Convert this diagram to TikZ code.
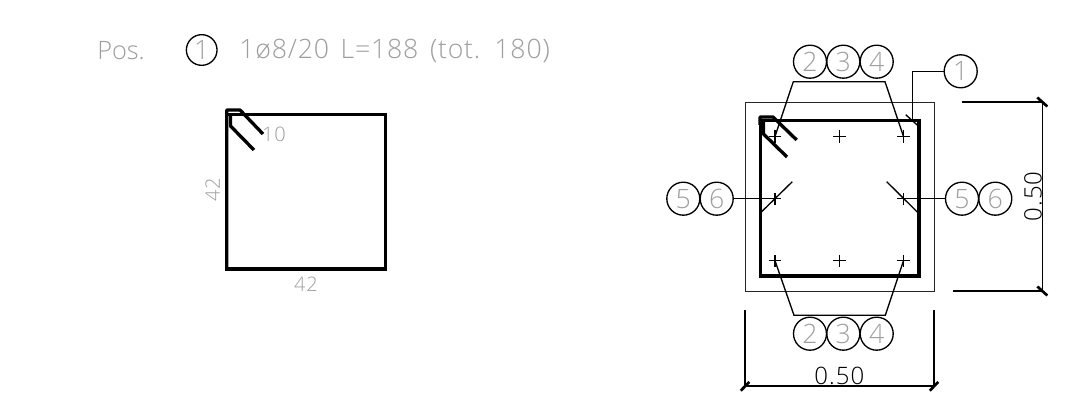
\documentclass[tikz,border=0pt]{standalone}
\usepackage{fontspec}
\usepackage{xcolor}
\newfontfamily\cadfont{Open Sans Light}
\newfontfamily\cadwide[LetterSpace=4.5,WordSpace=1.5]{Open Sans Light}
\newfontfamily\cadtitle[LetterSpace=3,WordSpace=1.5]{Open Sans Light}
\usetikzlibrary{shapes, shapes.misc}
\definecolor{textgray}{gray}{0.62}
\tikzstyle{concrete} = [rectangle, draw=black!85, line width=0.6pt, inner sep=0pt, minimum width=141.75pt, minimum height=141.75pt]
\tikzstyle{stirrup} = [rectangle, draw, line width=2.5pt, inner sep=0pt]
\tikzstyle{hook} = [draw, line width=2.5pt, line join=round]
\tikzstyle{line} = [draw, line width=1pt]
\tikzstyle{posno} = [circle, draw, line width=1pt, inner sep=0pt, minimum size=24.75pt, text=textgray, font=\cadfont\fontsize{20}{20}\selectfont]
\tikzstyle{bar} = [cross out, draw, line width=1.1pt, rotate=45, inner sep=0pt, outer sep=0pt, minimum size=6.4pt]
\tikzstyle{heading} = [inner sep=0pt, text=textgray, font=\cadtitle\fontsize{20}{20}\selectfont]
\tikzstyle{small} = [inner sep=0pt, text=textgray, font=\cadwide\fontsize{15}{15}\selectfont]
\tikzstyle{dimtext} = [inner sep=0pt, font=\cadwide\fontsize{17}{17}\selectfont]
\tikzstyle{tick} = [draw, line width=2pt]

\begin{document}
\begin{tikzpicture}[x=0.75pt, y=-0.75pt]
	\useasboundingbox (0,0) rectangle (1079,413);
	% Left: bar schedule
	\node [heading, anchor=west, font=\cadfont\fontsize{19}{19}\selectfont] (title) at (97,51) {Pos.};
	\node [posno, minimum size=23pt] (posOne) at (201.7,50) {1};
	\node [heading, anchor=east] (titleText) at (550,51) {1ø8/20 L=188 (tot. 180)};
	%
	\node [stirrup, minimum width=119pt, minimum height=116pt] (shape) at (306,191.7) {};
	\path [hook] (226.7,269) -- (226.7,110) -- (240,110) -- (263,134);
	\path [hook] (230.5,114.3) -- (230.5,126) -- (254,150);
	\node [small] (lenHook) at (274,134) {10};
	\node [small, rotate=90] (lenLeft) at (212.7,190) {42};
	\node [small] (lenBottom) at (306,284) {42};
	%
	% Right: cross section
	\node [concrete] (section) at (839.5,196.5) {};
	\node [stirrup, minimum width=119pt, minimum height=116.5pt] (tie) at (839.5,198.4) {};
	\path [hook] (760,125) -- (760,117) -- (773,117) -- (796.7,140);
	\path [hook] (763.5,120.7) -- (763.5,134) -- (787,157);
	%
	\node [bar] (topL) at (775,136.5) {};
	\node [bar] (topM) at (839.5,136.5) {};
	\node [bar] (topR) at (903.5,136.5) {};
	\node [bar] (midL) at (775,198.7) {};
	\node [bar] (midR) at (903.5,198.7) {};
	\node [bar] (botL) at (775,260.7) {};
	\node [bar] (botM) at (839.5,260.7) {};
	\node [bar] (botR) at (903.5,260.7) {};
	%
	\node [posno] (topTwo) at (810,61.7) {2};
	\node [posno] (topThree) at (843.3,61.7) {3};
	\node [posno] (topFour) at (876.7,61.7) {4};
	\node [posno] (tieOne) at (960.7,71.3) {1};
	\node [posno] (leftFive) at (683.3,198.7) {5};
	\node [posno] (leftSix) at (716.7,198.7) {6};
	\node [posno] (rightFive) at (962,198.7) {5};
	\node [posno] (rightSix) at (995.3,198.7) {6};
	\node [posno] (botTwo) at (810,333.7) {2};
	\node [posno] (botThree) at (843.3,333.7) {3};
	\node [posno] (botFour) at (876.7,333.7) {4};
	%
	\path [line] (topL.center) -- (793.3,81.7) -- (885,81.7) -- (topR.center);
	\path [line] (botL.center) -- (794,315.3) -- (885.3,315.3) -- (botR.center);
	\path [line] (tieOne) -- (912.3,71.3) -- (912.3,120.7);
	\path [line] (905.7,114.7) -- (918.3,126);
	\path [line] (leftSix) -- (midL.center);
	\path [line] (rightFive) -- (midR.center);
	\path [line] (759.3,214) -- (792.3,181.7);
	\path [line] (886.7,181.7) -- (919.3,214);
	%
	% Dimensions
	\coordinate (dimL) at (745,386);
	\coordinate (dimR) at (934,386);
	\coordinate (dimT) at (1042.3,102);
	\coordinate (dimB) at (1042.3,291);
	\path [line] (745,310) -- (dimL) -- (dimR) -- (934,310);
	\path [line] (961.7,102) -- (dimT) -- (dimB) -- (952.7,291);
	\path [tick] (740.7,390.7) -- (749.3,382);
	\path [tick] (929.7,390.7) -- (938.3,382);
	\path [tick] (1037.3,97.5) -- (1047.3,106.5);
	\path [tick] (1037.3,286.5) -- (1047.3,295.5);
	\node [dimtext, font=\cadwide\fontsize{18}{18}\selectfont] (dimWidth) at (839.3,376) {0.50};
	\node [dimtext, rotate=90, font=\cadwide\fontsize{18}{18}\selectfont] (dimHeight) at (1033,196.5) {0.50};
\end{tikzpicture}
\end{document}
